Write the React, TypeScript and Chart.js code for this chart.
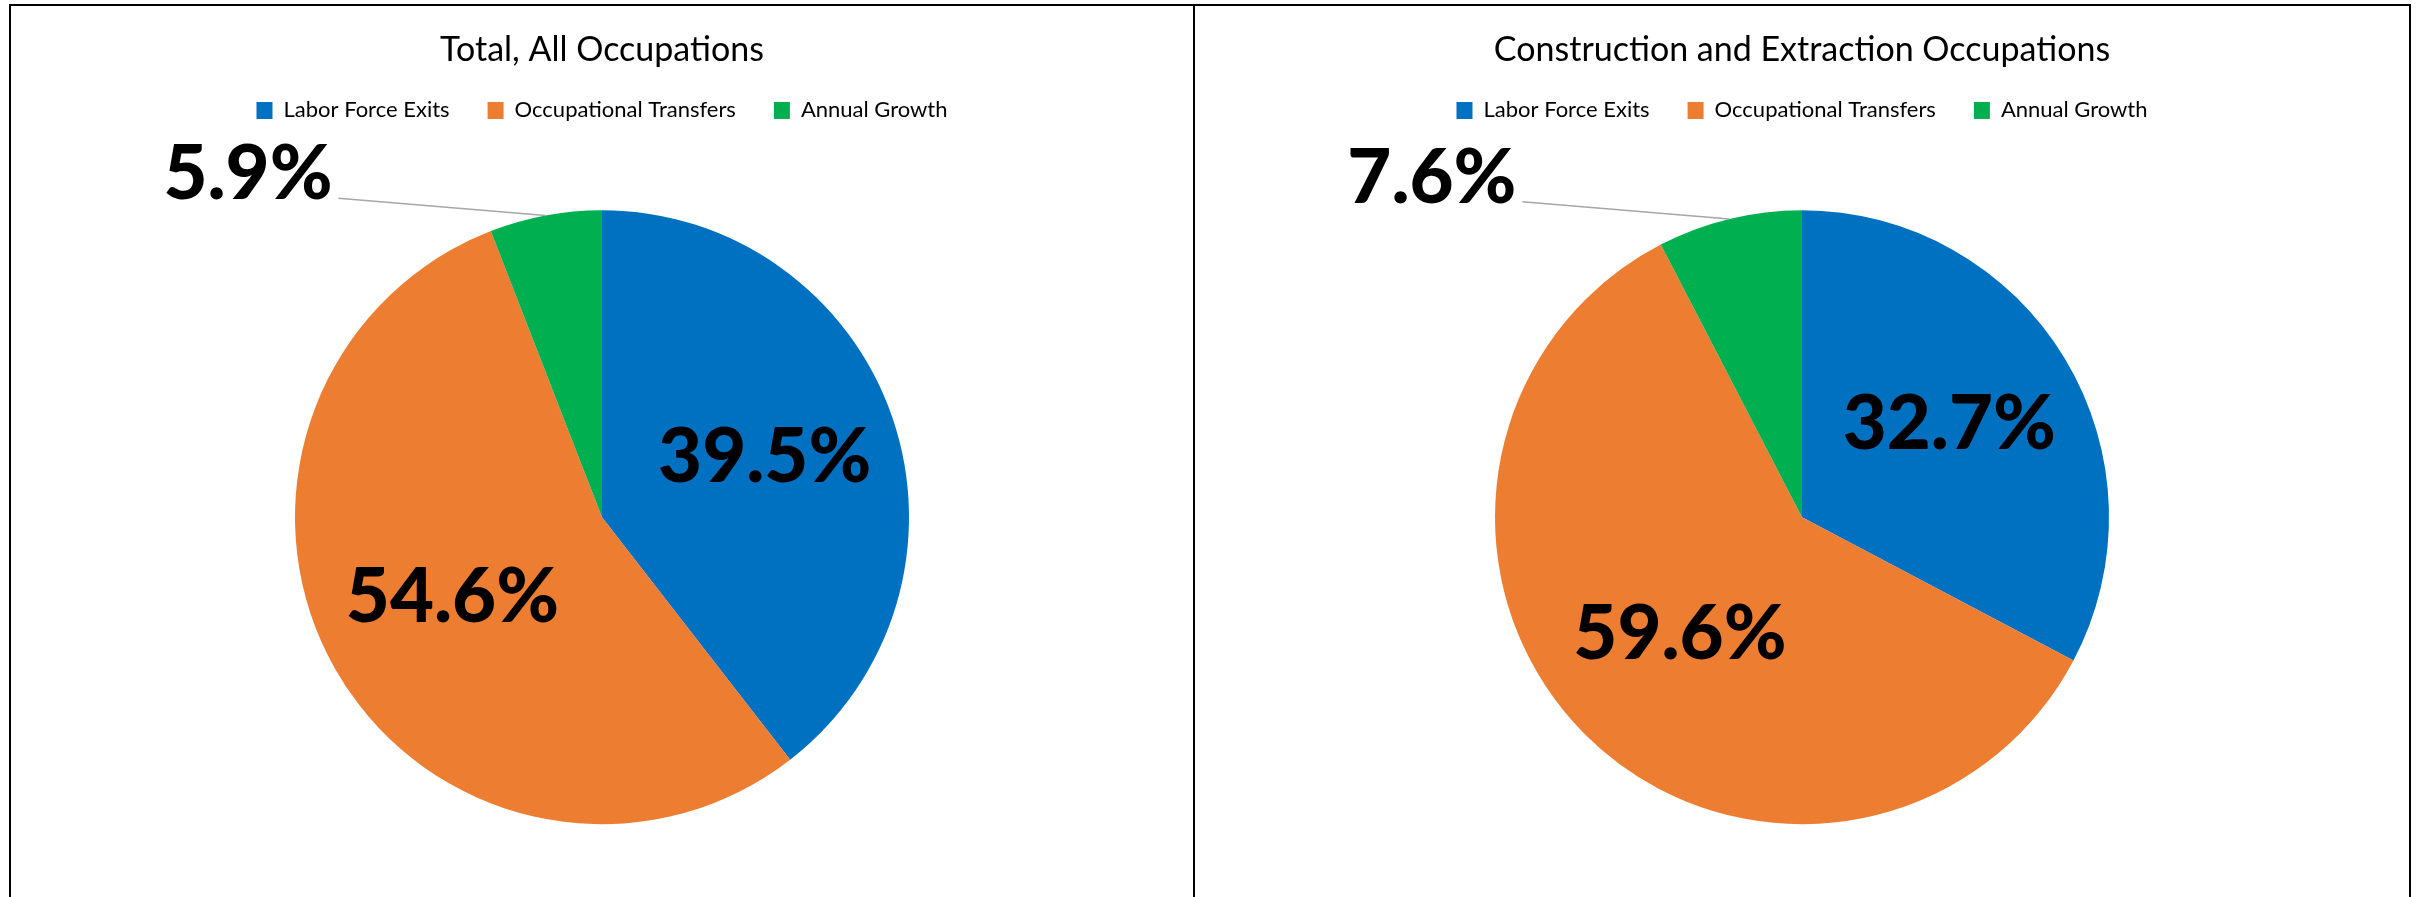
import React, { useEffect, useRef } from "react";
import { Chart, registerables } from "chart.js";

Chart.register(...registerables);

const categories = ["Labor Force Exits", "Occupational Transfers", "Annual Growth"];
const sliceColors = ["#0070C0", "#ED7D31", "#00B050"];
const totalValues = [39.5, 54.6, 5.9];
const constructionValues = [32.7, 59.6, 7.6];
const chartTitles = ["Total, All Occupations", "Construction and Extraction Occupations"];

const FONT = "Lato, 'Open Sans', sans-serif";

const sliceLabelPlugin = {
  id: "sliceLabels",
  afterDatasetsDraw(chart: any) {
    const ctx = chart.ctx;
    const meta = chart.getDatasetMeta(0);
    const data = chart.data.datasets[0].data as number[];
    ctx.save();
    meta.data.forEach((arc: any, i: number) => {
      const { x, y, startAngle, endAngle, outerRadius } = arc.getProps(
        ["x", "y", "startAngle", "endAngle", "outerRadius"],
        true
      );
      const mid = (startAngle + endAngle) / 2;
      const text = data[i].toFixed(1) + "%";
      ctx.font = `900 76px ${FONT}`;
      ctx.fillStyle = "#000000";
      if (data[i] >= 10) {
        const d = outerRadius * 0.56;
        ctx.textAlign = "center";
        ctx.textBaseline = "middle";
        ctx.fillText(text, x + Math.cos(mid) * d, y + Math.sin(mid) * d - 4);
      } else {
        const ex = x + Math.cos(mid) * outerRadius;
        const ey = y + Math.sin(mid) * outerRadius;
        const lx = ex - outerRadius * 0.674;
        const ly = ey - outerRadius * 0.056;
        ctx.strokeStyle = "#A6A6A6";
        ctx.lineWidth = 1.5;
        ctx.beginPath();
        ctx.moveTo(lx, ly);
        ctx.lineTo(ex, ey);
        ctx.stroke();
        ctx.textAlign = "right";
        ctx.textBaseline = "alphabetic";
        ctx.fillText(text, lx - 6, ly + 1);
      }
    });
    ctx.restore();
  },
};

function PieChart(props: { title: string; values: number[]; width: number; height: number }) {
  const ref = useRef<HTMLCanvasElement>(null);
  useEffect(() => {
    const chart = new Chart(ref.current!, {
      type: "pie",
      data: {
        labels: categories,
        datasets: [
          {
            data: props.values,
            backgroundColor: sliceColors,
            borderWidth: 0,
            radius: 307,
          } as any,
        ],
      },
      options: {
        animation: false,
        responsive: false,
        devicePixelRatio: 1,
        layout: { padding: { top: 0, bottom: 3, left: 0, right: 0 } },
        plugins: {
          title: {
            display: true,
            text: props.title,
            color: "#000000",
            font: { family: FONT, size: 34, weight: "normal" as any, lineHeight: 1.2 },
            padding: { top: 24, bottom: -9.4 },
          },
          legend: {
            display: true,
            position: "top",
            labels: {
              boxWidth: 16,
              boxHeight: 17,
              padding: 38,
              color: "#000000",
              font: { family: FONT, size: 22 },
            },
          },
          tooltip: { enabled: false },
        },
      },
      plugins: [sliceLabelPlugin],
    });
    return () => chart.destroy();
  }, []);
  return <canvas ref={ref} width={props.width} height={props.height} style={{ display: "block" }} />;
}

export default function App() {
  return (
    <div
      style={{
        position: "fixed",
        left: 0,
        top: 0,
        width: 2417,
        height: 897,
        overflow: "hidden",
        background: "#ffffff",
      }}
    >
      <div
        style={{
          position: "absolute",
          left: 9,
          top: 4,
          width: 2402,
          height: 950,
          boxSizing: "border-box",
          borderTop: "2px solid #000",
          borderLeft: "2px solid #000",
          borderRight: "2px solid #000",
        }}
      />
      <div style={{ position: "absolute", left: 1193, top: 4, width: 2, height: 950, background: "#000" }} />
      <div style={{ position: "absolute", left: 11, top: 6 }}>
        <PieChart title={chartTitles[0]} values={totalValues} width={1182} height={900} />
      </div>
      <div style={{ position: "absolute", left: 1195, top: 6 }}>
        <PieChart title={chartTitles[1]} values={constructionValues} width={1214} height={900} />
      </div>
    </div>
  );
}
